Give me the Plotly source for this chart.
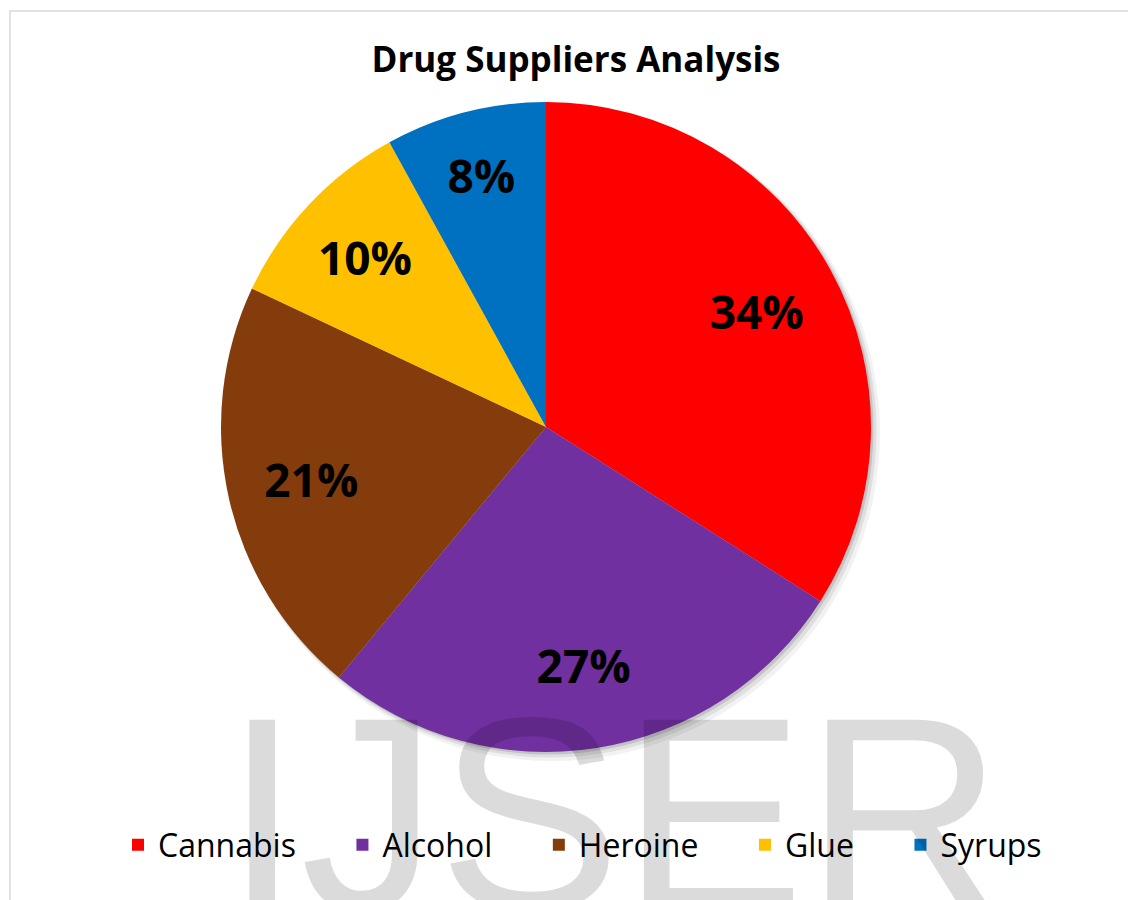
import plotly.graph_objects as go

categories = ["Cannabis", "Alcohol", "Heroine", "Glue", "Syrups"]
shares = [34, 27, 21, 10, 8]
colors = ["#FF0000", "#7030A0", "#843C0C", "#FFC000", "#0070C0"]
title_text = "Drug Suppliers Analysis"
watermark = "IJSER"

W, H = 1128, 900


def fx(x):
    return x / W


def fy(y):
    return 1 - y / H


PIE_DOMAIN = dict(x=[fx(221), fx(871)], y=[fy(752), fy(102)])
PAD = "\u00a0" * 5

fig = go.Figure()
# coloured slices + legend
fig.add_trace(go.Pie(
    labels=[c + PAD for c in categories],
    values=shares,
    domain=PIE_DOMAIN,
    marker=dict(colors=colors, line=dict(width=0)),
    sort=False,
    direction="clockwise",
    rotation=0,
    textinfo="none",
    hoverinfo="label+percent",
))
# transparent ring carrying the percentage labels further out
fig.add_trace(go.Pie(
    labels=categories,
    values=shares,
    domain=PIE_DOMAIN,
    hole=0.48,
    marker=dict(colors=["rgba(0,0,0,0)"] * len(categories), line=dict(width=0)),
    sort=False,
    direction="clockwise",
    rotation=0,
    texttemplate="%{percent:.0%}",
    textposition="inside",
    insidetextorientation="horizontal",
    textfont=dict(family="Open Sans", size=46, color="black", weight="bold"),
    hoverinfo="skip",
    showlegend=False,
))

shapes = []
cx, cy, r = 546, 427, 325
for off, grow, alpha in [(6, 3, 0.05), (4, 1.5, 0.08), (2, 0.5, 0.12)]:
    shapes.append(dict(
        type="circle", xref="paper", yref="paper", layer="below",
        x0=fx(cx - r - grow + off), x1=fx(cx + r + grow + off),
        y0=fy(cy + r + grow + off), y1=fy(cy - r - grow + off),
        fillcolor=f"rgba(0,0,0,{alpha})", line=dict(width=0),
    ))
shapes.append(dict(
    type="rect", xref="paper", yref="paper", layer="below",
    x0=fx(10), x1=fx(1140), y0=fy(915), y1=fy(11),
    line=dict(color="#d9d9d9", width=1.5), fillcolor="rgba(0,0,0,0)",
))

fig.update_layout(
    width=W, height=H,
    margin=dict(l=0, r=0, t=0, b=0),
    paper_bgcolor="white",
    plot_bgcolor="white",
    title=dict(
        text=title_text, x=576 / W, xanchor="center",
        y=1 - 60 / H, yanchor="middle", yref="container",
        font=dict(family="Open Sans", size=35, color="black", weight="bold"),
    ),
    showlegend=True,
    legend=dict(
        orientation="h", x=fx(118), xanchor="left",
        y=fy(845), yanchor="middle",
        font=dict(family="Open Sans", size=32, color="black"),
        traceorder="normal",
        bgcolor="rgba(0,0,0,0)",
    ),
    shapes=shapes,
    annotations=[dict(
        text=watermark, xref="paper", yref="paper",
        x=fx(613), xanchor="center", y=fy(658), yanchor="top",
        showarrow=False,
        font=dict(family="Liberation Sans", size=275, color="rgba(0,0,0,0.14)"),
    )],
)

fig.write_html("out.html")
